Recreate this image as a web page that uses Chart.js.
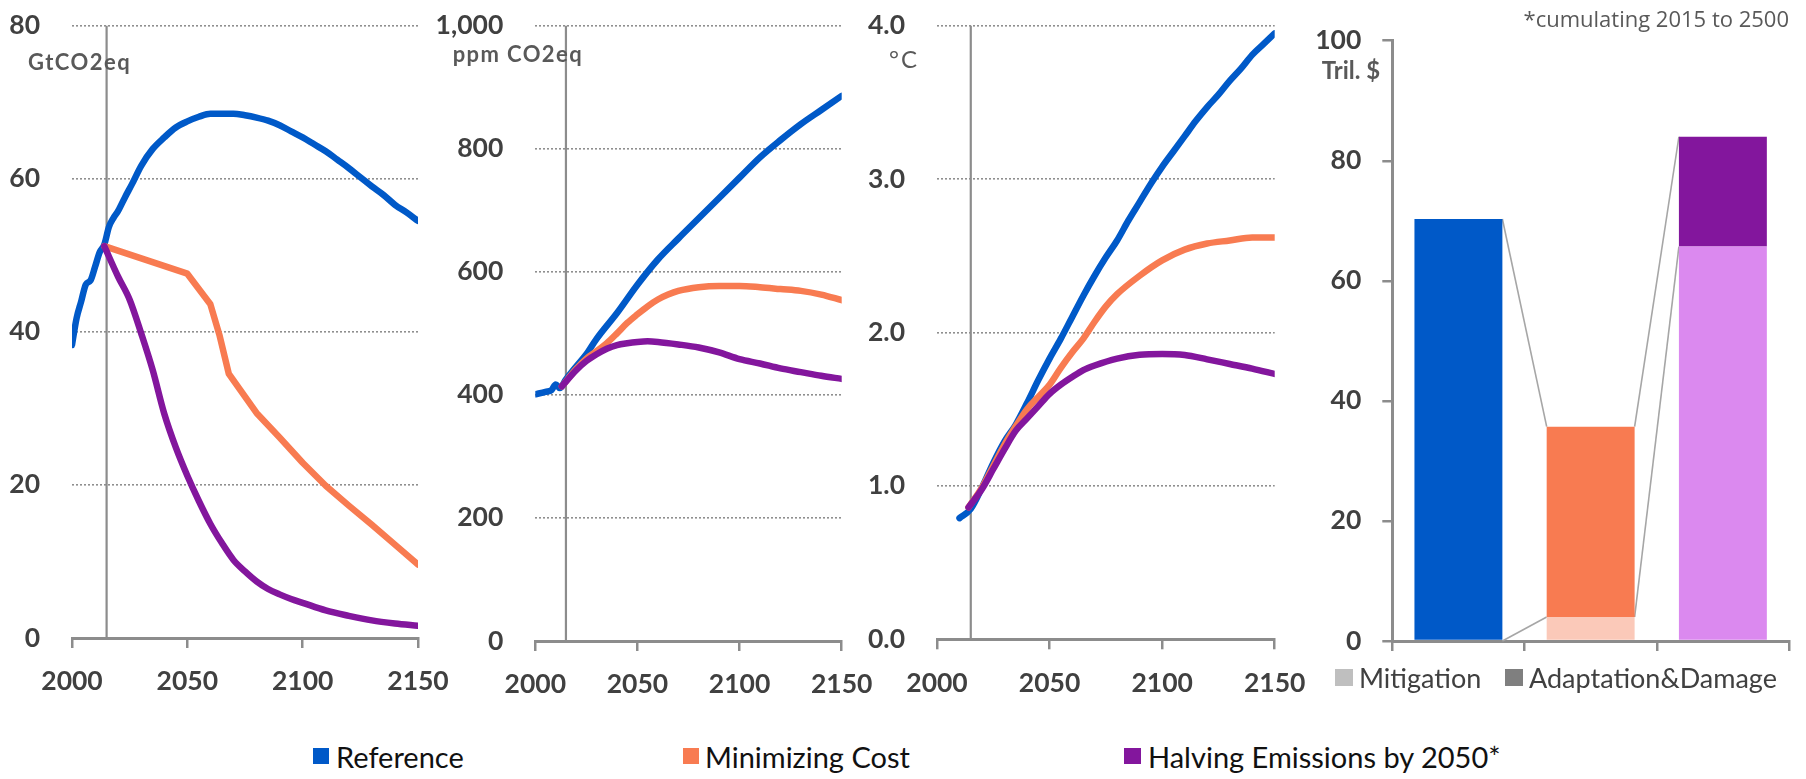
<!DOCTYPE html>
<html>
<head>
<meta charset="utf-8">
<title>Emissions, concentration, temperature and cost by scenario</title>
<script src="https://cdn.jsdelivr.net/npm/chart.js@4.4.1/dist/chart.umd.min.js"></script>
<style>
  html, body { margin: 0; padding: 0; background: #fff; }
  #wrap { position: relative; width: 1806px; height: 779px; overflow: hidden; background: #fff; }
  #wrap canvas { position: absolute; top: 0; }
  .legend { position: absolute; display: flex; align-items: center; white-space: nowrap; font-family: Lato, sans-serif; }
  .legend .sw { display: inline-block; flex: none; }
</style>
</head>
<body>
<div id="wrap">
  <canvas id="emis" width="480" height="720" style="left:0px;width:480px;height:720px"></canvas>
  <canvas id="conc" width="480" height="720" style="left:430px;width:480px;height:720px"></canvas>
  <canvas id="temp" width="490" height="720" style="left:850px;width:490px;height:720px"></canvas>
  <canvas id="cost" width="516" height="720" style="left:1290px;width:516px;height:720px"></canvas>

  <div class="legend" style="left:1335px;top:663px;height:28px;font-size:27px;color:#404040">
    <span class="sw" style="width:18px;height:17px;background:#bfbfbf;margin-right:6px"></span>Mitigation
  </div>
  <div class="legend" style="left:1505px;top:663px;height:28px;font-size:27px;color:#404040">
    <span class="sw" style="width:18px;height:17px;background:#7f7f7f;margin-right:6px"></span>Adaptation&amp;Damage
  </div>

  <div class="legend" style="left:313px;top:741px;height:30px;font-size:29px;color:#111">
    <span class="sw" style="width:16px;height:16px;background:#0059c8;margin-right:7px"></span>Reference
  </div>
  <div class="legend" style="left:683px;top:741px;height:30px;font-size:29px;color:#111">
    <span class="sw" style="width:16px;height:16px;background:#f87b51;margin-right:6px"></span>Minimizing Cost
  </div>
  <div class="legend" style="left:1124px;top:741px;height:30px;font-size:29px;color:#111">
    <span class="sw" style="width:17px;height:16px;background:#83169d;margin-right:7px"></span>Halving Emissions by 2050*
  </div>
</div>

<script>
// ---- Annual GHG emissions (GtCO2eq) ----
const emisRefYears = [2000,2002,2004,2006,2008,2010,2012,2014,2016,2018,2020,2023,2026,2030,2035,2040,2045,2050,2055,2060,2065,2070,2075,2080,2085,2090,2095,2100,2105,2110,2115,2120,2125,2130,2135,2140,2145,2150];
const emisReference = [38.3,41.8,44.0,46.2,46.7,48.5,50.4,51.4,53.7,54.9,55.8,57.6,59.3,61.7,63.9,65.4,66.7,67.5,68.1,68.5,68.5,68.5,68.3,68.0,67.6,67.0,66.2,65.4,64.5,63.6,62.5,61.4,60.2,59.0,57.9,56.6,55.6,54.5];
const emisMinCostYears = [2014,2050,2060,2064,2068,2080,2090,2100,2110,2120,2130,2140,2150];
const emisMinCost = [51.2,47.6,43.6,39.5,34.5,29.4,26.2,22.9,19.9,17.3,14.8,12.2,9.6];
const emisHalvingYears = [2014,2020,2025,2030,2035,2040,2045,2050,2055,2060,2065,2070,2075,2080,2085,2090,2095,2100,2110,2120,2130,2140,2150];
const emisHalving = [51.2,47.2,44.2,39.8,35.0,29.3,24.9,21.2,17.9,14.9,12.4,10.2,8.7,7.4,6.4,5.7,5.1,4.6,3.6,2.9,2.3,1.9,1.6];

// ---- GHG concentration (ppm CO2eq) ----
const concRefYears = [2000,2005,2008,2010,2012,2015,2020,2025,2030,2040,2050,2060,2070,2080,2090,2100,2110,2120,2130,2140,2150];
const concReference = [401,405,408,417,411,425,446,466,491,533,579,620,654,687,720,753,786,814,840,863,886];
const concMinCostYears = [2013,2020,2025,2030,2035,2040,2045,2050,2055,2060,2065,2070,2080,2090,2100,2110,2120,2130,2140,2150];
const concMinCost = [414,442,459,471,484,500,517,531,544,555,563,569,575,577,577,575,572,569,563,554];
const concHalvingYears = [2013,2020,2025,2030,2035,2040,2045,2050,2055,2060,2070,2080,2090,2100,2110,2120,2130,2140,2150];
const concHalving = [414,440,455,466,475,481,484,486,487,486,482,477,469,458,451,443,437,431,426];

// ---- Temperature rise (°C) ----
const tempRefYears = [2010,2015,2020,2025,2030,2035,2040,2045,2050,2055,2060,2065,2070,2075,2080,2085,2090,2095,2100,2105,2110,2115,2120,2125,2130,2135,2140,2145,2150];
const tempReference = [0.79,0.85,0.99,1.15,1.29,1.40,1.54,1.69,1.83,1.96,2.10,2.24,2.37,2.49,2.60,2.73,2.85,2.97,3.08,3.18,3.28,3.38,3.47,3.55,3.64,3.72,3.81,3.88,3.95];
const tempMinCostYears = [2014,2020,2025,2030,2035,2040,2045,2050,2055,2060,2065,2070,2075,2080,2090,2100,2110,2120,2130,2140,2150];
const tempMinCost = [0.86,0.99,1.13,1.27,1.39,1.50,1.58,1.66,1.77,1.87,1.96,2.07,2.17,2.25,2.37,2.47,2.54,2.58,2.60,2.62,2.62];
const tempHalvingYears = [2014,2020,2025,2030,2035,2040,2045,2050,2055,2060,2065,2070,2080,2090,2100,2110,2120,2130,2140,2150];
const tempHalving = [0.86,0.98,1.11,1.24,1.36,1.44,1.52,1.60,1.66,1.71,1.755,1.785,1.83,1.855,1.86,1.853,1.825,1.795,1.765,1.73];

// ---- Cumulative cost 2015-2500 (Tril. $) ----
const costScenarios = ['Reference', 'Minimizing Cost', 'Halving Emissions by 2050*'];
const costMitigation = [0, 4.0, 65.7];
const costAdaptDamage = [70.3, 31.7, 18.3];

// shared tick sets
const yearTicks = { min: 2000, max: 2150, step: 50 };
const projectionStart = 2015;

// ---- styling ----
const COL_REF = '#0059c8';
const COL_MIN = '#f87b51';
const COL_HALF = '#83169d';
const COL_MIN_LIGHT = '#fbc9b9';
const COL_HALF_LIGHT = '#db89ef';
const AXIS_GREY = '#8c8c8c';
const TICK_FONT = { family: 'Lato', weight: 'bold', size: 26.5 };
const TICK_COLOR = '#404040';
const CANVAS_H = 720;

const pts = (xs, ys) => xs.map((x, i) => ({ x: x, y: ys[i] }));

// vertical line where the value axis crosses the time axis
function crossLine(year) {
  return {
    id: 'crossLine',
    beforeDatasetsDraw(chart) {
      const { ctx, chartArea, scales } = chart;
      const px = scales.x.getPixelForValue(year);
      ctx.save();
      ctx.strokeStyle = AXIS_GREY;
      ctx.lineWidth = 2.2;
      ctx.beginPath();
      ctx.moveTo(px, chartArea.top);
      ctx.lineTo(px, chartArea.bottom);
      ctx.stroke();
      ctx.restore();
    }
  };
}

// unit captions and notes drawn on the canvas
function captions(items) {
  return {
    id: 'captions',
    afterDraw(chart) {
      const ctx = chart.ctx;
      items.forEach(it => {
        ctx.save();
        ctx.font = it.font;
        ctx.fillStyle = it.color;
        ctx.textAlign = it.align || 'left';
        ctx.textBaseline = 'alphabetic';
        ctx.letterSpacing = (it.spacing || 0) + 'px';
        ctx.fillText(it.text, it.x, it.y);
        ctx.restore();
      });
    }
  };
}

function lineSeries(years, values, color, order, straight) {
  return {
    data: pts(years, values),
    borderColor: color,
    backgroundColor: color,
    borderWidth: 6.5,
    borderCapStyle: 'round',
    borderJoinStyle: 'round',
    pointRadius: 0,
    fill: false,
    order: order,
    tension: straight ? 0 : 0.4,
    cubicInterpolationMode: straight ? 'default' : 'monotone'
  };
}

function linePanel(id, box, yAxis, datasets, caption) {
  const XH = 60;
  return new Chart(document.getElementById(id), {
    type: 'line',
    data: { datasets: datasets },
    options: {
      responsive: false,
      animation: false,
      devicePixelRatio: 1,
      events: [],
      layout: {
        padding: {
          left: 0,
          top: box.area.t,
          right: box.left + box.width - box.area.r,
          bottom: CANVAS_H - box.area.b - XH
        }
      },
      plugins: { legend: { display: false }, tooltip: { enabled: false } },
      scales: {
        x: {
          type: 'linear',
          min: yearTicks.min,
          max: yearTicks.max,
          ticks: {
            stepSize: yearTicks.step,
            font: TICK_FONT,
            color: TICK_COLOR,
            padding: 18,
            maxRotation: 0,
            autoSkip: false,
            callback: v => String(v)
          },
          grid: { drawOnChartArea: false, drawTicks: true, tickLength: 10, color: AXIS_GREY, lineWidth: 2.5 },
          border: { display: true, color: AXIS_GREY, width: 3 },
          afterFit: s => { s.height = XH; }
        },
        y: {
          min: 0,
          max: yAxis.max,
          ticks: {
            stepSize: yAxis.step,
            font: TICK_FONT,
            color: TICK_COLOR,
            padding: 0,
            callback: yAxis.format
          },
          // an invisible tick mark keeps the labels clear of the plot
          grid: { color: '#8f8f8f', lineWidth: 1.6, drawTicks: true, tickLength: 32, tickColor: 'rgba(0,0,0,0)' },
          border: { display: false, dash: [2, 2] },
          afterFit: s => { s.width = box.area.l - box.left; }
        }
      }
    },
    plugins: [crossLine(projectionStart), captions(caption)]
  });
}

// Emissions
linePanel('emis',
  { left: 0, width: 480, area: { l: 72, t: 25.7, r: 418, b: 638 } },
  { max: 80, step: 20, format: v => String(v) },
  [
    lineSeries(emisRefYears, emisReference, COL_REF, 3, false),
    lineSeries(emisMinCostYears, emisMinCost, COL_MIN, 2, true),
    lineSeries(emisHalvingYears, emisHalving, COL_HALF, 1, false)
  ],
  [{ text: 'GtCO2eq', x: 28, y: 69.5, font: 'bold 22px Lato', color: '#595959', spacing: 1.5 }]
);

// Concentration
linePanel('conc',
  { left: 430, width: 480, area: { l: 535.3, t: 25.7, r: 841.7, b: 641 } },
  { max: 1000, step: 200, format: v => Number(v).toLocaleString('en-US') },
  [
    lineSeries(concRefYears, concReference, COL_REF, 3, false),
    lineSeries(concMinCostYears, concMinCost, COL_MIN, 2, false),
    lineSeries(concHalvingYears, concHalving, COL_HALF, 1, false)
  ],
  [{ text: 'ppm CO2eq', x: 22.7, y: 61.7, font: 'bold 22px Lato', color: '#595959', spacing: 1.4 }]
);

// Temperature
linePanel('temp',
  { left: 850, width: 490, area: { l: 937, t: 25.7, r: 1274.7, b: 639.3 } },
  { max: 4, step: 1, format: v => Number(v).toFixed(1) },
  [
    lineSeries(tempRefYears, tempReference, COL_REF, 3, false),
    lineSeries(tempMinCostYears, tempMinCost, COL_MIN, 2, false),
    lineSeries(tempHalvingYears, tempHalving, COL_HALF, 1, false)
  ],
  [{ text: '°C', x: 39, y: 68.3, font: '24px Lato', color: '#595959', spacing: 2 }]
);

// connector lines between stacked segments of neighbouring bars
const seriesLines = {
  id: 'seriesLines',
  beforeDatasetsDraw(chart) {
    const ctx = chart.ctx;
    ctx.save();
    ctx.strokeStyle = '#a6a6a6';
    ctx.lineWidth = 1.6;
    chart.data.datasets.forEach((ds, di) => {
      const bars = chart.getDatasetMeta(di).data;
      for (let i = 0; i < bars.length - 1; i++) {
        const a = bars[i], b = bars[i + 1];
        ctx.beginPath();
        ctx.moveTo(a.x + a.width / 2, a.y);
        ctx.lineTo(b.x - b.width / 2, b.y);
        ctx.stroke();
      }
    });
    ctx.restore();
  }
};

// Cost
(function () {
  const box = { left: 1290, width: 516, area: { l: 1392.3, t: 40.7, r: 1789, b: 641 } };
  const XH = 12;
  new Chart(document.getElementById('cost'), {
    type: 'bar',
    data: {
      labels: costScenarios,
      datasets: [
        { label: 'Mitigation', data: costMitigation, backgroundColor: [COL_REF, COL_MIN_LIGHT, COL_HALF_LIGHT], borderWidth: 0 },
        { label: 'Adaptation&Damage', data: costAdaptDamage, backgroundColor: [COL_REF, COL_MIN, COL_HALF], borderWidth: 0 }
      ]
    },
    options: {
      responsive: false,
      animation: false,
      devicePixelRatio: 1,
      events: [],
      barPercentage: 0.665,
      categoryPercentage: 1.0,
      layout: {
        padding: {
          left: 0,
          top: box.area.t,
          right: box.left + box.width - box.area.r,
          bottom: CANVAS_H - box.area.b - XH
        }
      },
      plugins: { legend: { display: false }, tooltip: { enabled: false } },
      scales: {
        x: {
          stacked: true,
          offset: true,
          ticks: { display: false },
          grid: { offset: true, drawOnChartArea: false, drawTicks: true, tickLength: 10, color: AXIS_GREY, lineWidth: 2.5 },
          border: { display: true, color: AXIS_GREY, width: 3 },
          afterFit: s => { s.height = XH; }
        },
        y: {
          stacked: true,
          min: 0,
          max: 100,
          ticks: { stepSize: 20, font: TICK_FONT, color: TICK_COLOR, padding: 21 },
          grid: { drawOnChartArea: false, drawTicks: true, tickLength: 10, color: AXIS_GREY, lineWidth: 2.5 },
          border: { display: true, color: AXIS_GREY, width: 3 },
          afterFit: s => { s.width = box.area.l - box.left; }
        }
      }
    },
    plugins: [seriesLines, captions([
      { text: 'Tril. $', x: 31.7, y: 79, font: 'bold 24px Lato', color: '#595959' },
      { text: '*cumulating 2015 to 2500', x: 499, y: 26.7, font: '22px "Open Sans"', color: '#595959', align: 'right' }
    ])]
  });
})();
</script>
</body>
</html>
